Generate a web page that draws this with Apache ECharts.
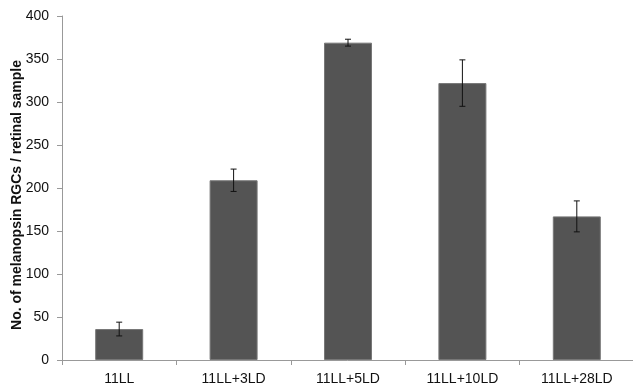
<!DOCTYPE html>
<html>
<head>
<meta charset="utf-8">
<script src="https://cdn.jsdelivr.net/npm/echarts@6/dist/echarts.min.js"></script>
<style>html,body{margin:0;padding:0;background:#fff;}#c{width:633px;height:389px;}</style>
</head>
<body>
<div id="c"></div>
<script>
const categories = ['11LL', '11LL+3LD', '11LL+5LD', '11LL+10LD', '11LL+28LD'];
const values = [36, 209, 369, 322, 167];
const errors = [8, 13, 4, 27, 18];
const yTicks = { min: 0, max: 400, interval: 50 };
const yTitle = 'No. of melanopsin RGCs / retinal sample';

const chart = echarts.init(document.getElementById('c'), null, { renderer: 'canvas' });
const errData = categories.map((c, i) => [i, values[i] - errors[i], values[i] + errors[i]]);

chart.setOption({
  animation: false,
  backgroundColor: '#ffffff',
  grid: { left: 62, right: -1, top: 16, bottom: 29, containLabel: false, outerBoundsMode: 'none' },
  graphic: [{
    type: 'text',
    x: 17, y: 195,
    rotation: Math.PI / 2,
    style: {
      text: yTitle,
      fill: '#111',
      font: 'bold 14px "Liberation Sans", Arial, sans-serif',
      align: 'center',
      verticalAlign: 'middle'
    }
  }],
  xAxis: {
    type: 'category',
    data: categories,
    axisLine: { lineStyle: { color: '#999999', width: 1 } },
    axisTick: { show: true, alignWithLabel: false, length: 5, lineStyle: { color: '#999999' } },
    axisLabel: { color: '#111', fontFamily: 'Liberation Sans, Arial, sans-serif', fontSize: 14, margin: 12 }
  },
  yAxis: {
    type: 'value',
    min: yTicks.min, max: yTicks.max, interval: yTicks.interval,
    axisLine: { show: true, lineStyle: { color: '#999999', width: 1 } },
    axisTick: { show: true, length: 5, lineStyle: { color: '#999999' } },
    splitLine: { show: false },
    axisLabel: { color: '#111', fontFamily: 'Liberation Sans, Arial, sans-serif', fontSize: 14, margin: 13 }
  },
  series: [
    {
      type: 'bar',
      data: values,
      barWidth: 48,
      itemStyle: { color: '#545454', borderColor: '#777777', borderWidth: 1 }
    },
    {
      type: 'custom',
      data: errData,
      z: 10,
      renderItem: function (params, api) {
        const x = api.value(0);
        const lo = api.coord([x, api.value(1)]);
        const hi = api.coord([x, api.value(2)]);
        const hw = 3;
        const style = { stroke: '#111', lineWidth: 1 };
        return {
          type: 'group',
          children: [
            { type: 'line', shape: { x1: hi[0], y1: hi[1], x2: lo[0], y2: lo[1] }, style },
            { type: 'line', shape: { x1: hi[0] - hw, y1: hi[1], x2: hi[0] + hw, y2: hi[1] }, style },
            { type: 'line', shape: { x1: lo[0] - hw, y1: lo[1], x2: lo[0] + hw, y2: lo[1] }, style }
          ]
        };
      }
    }
  ]
});
</script>
</body>
</html>
